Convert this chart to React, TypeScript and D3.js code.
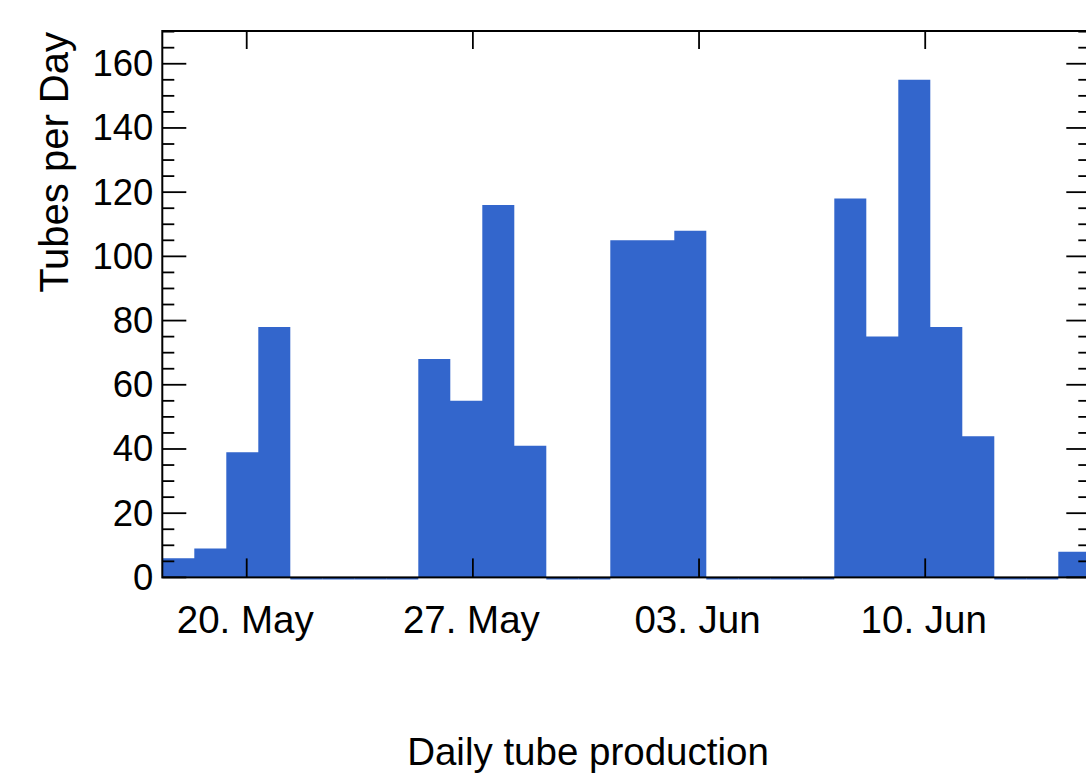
import React from "react";
import * as d3 from "d3";

// ---- data ----
const histStartUtc = Date.UTC(2019, 4, 17, 9, 18); // low edge of histogram
const binWidthHours = 23.77;
const tubesPerBin = [
  6, 9, 39, 78, 0, 0, 0, 0, 68, 55, 116, 41, 0, 0, 105, 105, 108, 0, 0, 0, 0,
  118, 75, 155, 78, 44, 0, 0, 8,
];
const xTickDates = ["2019-05-20", "2019-05-27", "2019-06-03", "2019-06-10"];
const yMajorTicks = [0, 20, 40, 60, 80, 100, 120, 140, 160];
const yMinorTicks = d3.range(0, 171, 5);
const yMax = 170.2;
const xTitle = "Daily tube production";
const yTitle = "Tubes per Day";

const W = 1086;
const H = 782;
const M = { left: 162.3, right: 1090.3, top: 31, bottom: 577.4 };
const BLUE = "#3366cc";
const FONT = "'Liberation Sans', Arial, Helvetica, sans-serif";

export default function App() {
  const binMs = binWidthHours * 3600 * 1000;
  const start = new Date(histStartUtc);
  const end = new Date(histStartUtc + binMs * tubesPerBin.length);
  const x = d3.scaleUtc().domain([start, end]).range([M.left, M.right]);
  const y = d3.scaleLinear().domain([0, yMax]).range([M.bottom, M.top]);
  const fmt = d3.utcFormat("%d. %b");

  const bins = tubesPerBin.map((v, i) => ({
    x0: new Date(histStartUtc + i * binMs),
    x1: new Date(histStartUtc + (i + 1) * binMs),
    v,
  }));

  // single filled area for the histogram (no seams between bins)
  const pts: { t: Date; v: number }[] = [];
  bins.forEach((b) => {
    pts.push({ t: b.x0, v: b.v });
    pts.push({ t: b.x1, v: b.v });
  });
  const area = d3
    .area<{ t: Date; v: number }>()
    .x((d) => x(d.t))
    .y0(y(0))
    .y1((d) => y(d.v));

  return (
    <svg
      width={W}
      height={H}
      style={{ position: "absolute", left: 0, top: 0, background: "#fff" }}
      fontFamily={FONT}
    >
      <rect x={0} y={0} width={W} height={H} fill="#fff" />
      <path d={area(pts) || ""} fill={BLUE} stroke="none" />
      {/* zero-level outline segments */}
      {bins
        .filter((b) => b.v === 0)
        .map((b, i) => (
          <line
            key={"z" + i}
            x1={x(b.x0)}
            x2={x(b.x1)}
            y1={y(0) + 1.2}
            y2={y(0) + 1.2}
            stroke={BLUE}
            strokeWidth={2}
          />
        ))}

      {/* frame */}
      <rect
        x={M.left}
        y={M.top}
        width={M.right - M.left}
        height={M.bottom - M.top}
        fill="none"
        stroke="#000"
        strokeWidth={2}
      />

      {/* y ticks */}
      {yMinorTicks.map((t) => {
        const major = t % 20 === 0;
        const len = major ? 24 : 12;
        return (
          <g key={"y" + t}>
            <line x1={M.left} x2={M.left + len} y1={y(t)} y2={y(t)} stroke="#000" strokeWidth={1.8} />
            <line x1={M.right - len} x2={M.right} y1={y(t)} y2={y(t)} stroke="#000" strokeWidth={1.8} />
          </g>
        );
      })}
      {yMajorTicks.map((t) => (
        <text
          key={"yl" + t}
          x={M.left - 9}
          y={y(t)}
          textAnchor="end"
          dominantBaseline="central"
          fontSize={36.5}
          fill="#000"
        >
          {t}
        </text>
      ))}

      {/* x ticks */}
      {xTickDates.map((s) => {
        const d = new Date(s + "T00:00:00Z");
        const px = x(d);
        return (
          <g key={s}>
            <line x1={px} x2={px} y1={M.bottom} y2={M.bottom - 19} stroke="#000" strokeWidth={1.8} />
            <line x1={px} x2={px} y1={M.top} y2={M.top + 18} stroke="#000" strokeWidth={1.8} />
            <text x={px - 1.5} y={633} textAnchor="middle" fontSize={38.5} fill="#000">
              {fmt(d)}
            </text>
          </g>
        );
      })}

      {/* titles */}
      <text x={588} y={765} textAnchor="middle" fontSize={38.5} fill="#000">
        {xTitle}
      </text>
      <text
        transform={`translate(68, ${M.top + 1}) rotate(-90)`}
        textAnchor="end"
        fontSize={40}
        fill="#000"
      >
        {yTitle}
      </text>
    </svg>
  );
}
